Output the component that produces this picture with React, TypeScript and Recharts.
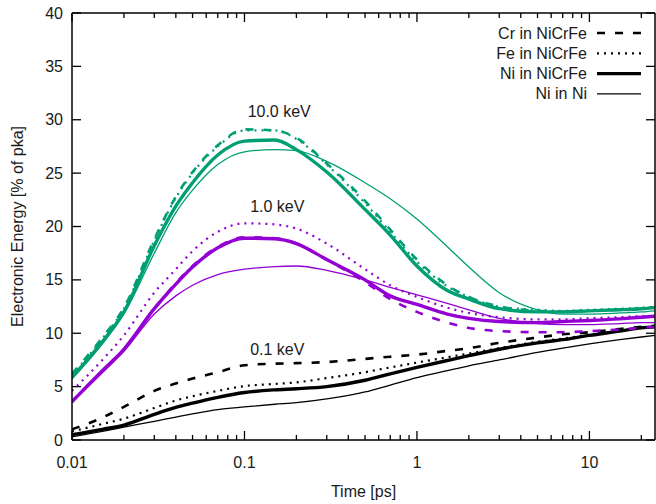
import { LineChart, Line, XAxis, YAxis, Legend, ReferenceDot, ReferenceLine, Label } from 'recharts';

// time grid [ps]
const times = [0.01, 0.015, 0.02, 0.03, 0.04, 0.05, 0.07, 0.1, 0.15, 0.2, 0.3, 0.5, 0.7, 1, 1.5, 2, 3, 5, 7, 10, 15, 20, 24];

// 0.1 keV (black)
const crLow = [1.0, 2.1, 3.1, 4.6, 5.3, 5.75, 6.35, 7.0, 7.15, 7.2, 7.3, 7.6, 7.8, 8.0, 8.35, 8.6, 9.1, 9.6, 9.9, 10.1, 10.4, 10.6, 10.7];
const feLow = [0.8, 1.5, 2.0, 3.0, 3.7, 4.1, 4.6, 5.05, 5.25, 5.4, 5.8, 6.35, 6.8, 7.25, 7.75, 8.1, 8.6, 9.2, 9.5, 9.85, 10.25, 10.5, 10.6];
const niLow = [0.5, 1.0, 1.4, 2.4, 3.05, 3.45, 4.0, 4.45, 4.7, 4.8, 5.0, 5.6, 6.2, 6.8, 7.45, 7.9, 8.5, 9.1, 9.4, 9.8, 10.2, 10.5, 10.6];
const niNiLow = [0.3, 0.8, 1.2, 1.75, 2.15, 2.45, 2.85, 3.1, 3.35, 3.5, 3.85, 4.5, 5.15, 5.85, 6.5, 6.95, 7.5, 8.2, 8.6, 9.0, 9.4, 9.65, 9.8];

// 1.0 keV (purple)
const crMid = [3.6, 6.5, 8.5, 12.3, 14.7, 16.3, 18.1, 19.0, 18.9, 18.4, 16.9, 14.8, 13.2, 12.0, 11.0, 10.5, 10.2, 10.1, 10.1, 10.2, 10.35, 10.5, 10.6];
const feMid = [4.6, 7.5, 9.8, 13.8, 16.0, 17.7, 19.5, 20.3, 20.2, 19.8, 18.4, 16.0, 14.5, 13.4, 12.4, 11.9, 11.5, 11.3, 11.3, 11.4, 11.5, 11.6, 11.6];
const niMid = [3.6, 6.5, 8.5, 12.3, 14.6, 16.2, 18.0, 18.9, 18.85, 18.4, 16.9, 15.0, 13.5, 12.7, 11.8, 11.4, 11.1, 11.0, 11.1, 11.2, 11.35, 11.5, 11.6];
const niNiMid = [3.5, 6.3, 8.3, 11.8, 13.5, 14.5, 15.5, 16.0, 16.25, 16.3, 15.9, 15.0, 14.3, 13.6, 12.8, 12.2, 11.4, 10.9, 10.8, 10.8, 10.9, 11.0, 11.0];

// 10.0 keV (green)
const crHigh = [6.2, 9.6, 12.4, 18.8, 22.8, 25.1, 27.6, 29.1, 29.0, 28.3, 25.9, 22.4, 19.7, 16.9, 14.5, 13.4, 12.5, 12.1, 12.0, 12.1, 12.2, 12.3, 12.4];
const feHigh = [6.1, 9.5, 12.3, 18.7, 22.7, 25.0, 27.5, 29.0, 29.0, 28.2, 25.8, 22.2, 19.5, 16.7, 14.4, 13.4, 12.5, 12.2, 12.1, 12.2, 12.3, 12.4, 12.5];
const niHigh = [5.9, 9.2, 12.0, 18.2, 21.9, 24.1, 26.7, 28.0, 28.1, 27.2, 25.1, 21.6, 19.2, 16.3, 14.0, 13.2, 12.3, 12.0, 12.0, 12.1, 12.2, 12.3, 12.4];
const niNiHigh = [5.7, 9.0, 11.8, 17.5, 21.3, 23.4, 25.8, 27.0, 27.2, 27.1, 26.1, 24.1, 22.6, 20.7, 18.1, 16.2, 13.8, 12.2, 11.8, 11.8, 11.9, 12.0, 12.1];

const majorX = [0.01, 0.1, 1, 10];
const minorX = [0.02, 0.03, 0.04, 0.05, 0.06, 0.07, 0.08, 0.09, 0.2, 0.3, 0.4, 0.5, 0.6, 0.7, 0.8, 0.9, 2, 3, 4, 5, 6, 7, 8, 9, 20];
const yTicks = [0, 5, 10, 15, 20, 25, 30, 35, 40];

const legendLabels = ['Cr in NiCrFe', 'Fe in NiCrFe', 'Ni in NiCrFe', 'Ni in Ni'];
const annotations = [
  { x: 0.159, y: 30.8, text: '10.0 keV' },
  { x: 0.155, y: 21.9, text: '1.0 keV' },
  { x: 0.155, y: 8.45, text: '0.1 keV' },
];

const X_MIN = 0.01;
const X_MAX = 24;
const Y_MAX = 40;

const GREEN = '#009e73';
const PURPLE = '#9400d3';
const BLACK = '#000000';
const FONT = '"Liberation Sans", Arial, sans-serif';
const TXT = '#1a1a1a';
const AXIS_LINE = { stroke: '#000', strokeWidth: 1.5 };

// plot box in px, used only to turn tick lengths (px) into axis units
const PLOT_W = 583;
const PLOT_H = 427;
const MAJOR_PX = 9;
const MINOR_PX = 5;
const yLen = (px: number) => (px * Y_MAX) / PLOT_H;
const xFac = (px: number) => Math.pow(10, (px * Math.log10(X_MAX / X_MIN)) / PLOT_W);

// line style per species: Cr, Fe, Ni (alloy), Ni (pure)
const styles = [
  { width: 2.6, dash: '8 10' },
  { width: 2.2, dash: '2 5' },
  { width: 3.4, dash: undefined },
  { width: 1.3, dash: undefined },
];

const groups = [
  { color: BLACK, keys: ['crLow', 'feLow', 'niLow', 'niNiLow'], vals: [crLow, feLow, niLow, niNiLow] },
  { color: PURPLE, keys: ['crMid', 'feMid', 'niMid', 'niNiMid'], vals: [crMid, feMid, niMid, niNiMid] },
  { color: GREEN, keys: ['crHigh', 'feHigh', 'niHigh', 'niNiHigh'], vals: [crHigh, feHigh, niHigh, niNiHigh] },
];

const data = times.map((t, i) => {
  const row: Record<string, number> = { t };
  groups.forEach((g) => g.keys.forEach((k, j) => (row[k] = g.vals[j][i])));
  return row;
});

// inward tick marks (gnuplot style) as short segments on all four sides
const xTickSegs = [
  ...majorX.map((t) => ({ t, len: yLen(MAJOR_PX) })),
  ...minorX.map((t) => ({ t, len: yLen(MINOR_PX) })),
].flatMap(({ t, len }) => [
  [{ x: t, y: 0 }, { x: t, y: len }],
  [{ x: t, y: Y_MAX }, { x: t, y: Y_MAX - len }],
]);
const yTickSegs = yTicks.flatMap((v) => [
  [{ x: X_MIN, y: v }, { x: X_MIN * xFac(MAJOR_PX), y: v }],
  [{ x: X_MAX, y: v }, { x: X_MAX / xFac(MAJOR_PX), y: v }],
]);
const tickSegs = [...xTickSegs, ...yTickSegs];

function BottomLabel(props: any) {
  const { x, y, payload } = props;
  return (
    <text x={x} y={y + 28} textAnchor="middle" fontSize={16} fontFamily={FONT} fill={TXT}>
      {String(payload.value)}
    </text>
  );
}

function LeftLabel(props: any) {
  const { x, y, payload } = props;
  return (
    <text x={x - 9} y={y + 5.5} textAnchor="end" fontSize={16} fontFamily={FONT} fill={TXT}>
      {payload.value}
    </text>
  );
}

const NoTick = () => <g />;

function LegendBox() {
  return (
    <svg width={280} height={95}>
      {legendLabels.map((lab, i) => {
        const cy = 13 + i * 20.3;
        return (
          <g key={lab}>
            <text x={207} y={cy + 5.5} textAnchor="end" fontSize={16} fontFamily={FONT} fill={TXT}>
              {lab}
            </text>
            <line
              x1={217}
              x2={261}
              y1={cy}
              y2={cy}
              stroke="#000"
              strokeWidth={styles[i].width}
              strokeDasharray={styles[i].dash}
            />
          </g>
        );
      })}
    </svg>
  );
}

export default function App() {
  return (
    <div
      style={{ position: 'absolute', left: 0, top: 0, width: 656, height: 504, overflow: 'hidden', background: '#fff' }}
    >
      <LineChart width={660} height={504} data={data} margin={{ top: 0, right: 0, bottom: 0, left: 0 }}>
        <XAxis
          xAxisId="b"
          dataKey="t"
          type="number"
          scale="log"
          domain={[X_MIN, X_MAX]}
          allowDataOverflow
          ticks={majorX}
          interval={0}
          height={64}
          tickSize={0}
          tickMargin={0}
          tickLine={false}
          tick={BottomLabel}
          axisLine={AXIS_LINE}
        >
          <Label
            content={(p: any) => {
              const vb = p.viewBox || { x: 72, y: 440, width: 583 };
              return (
                <text x={vb.x + vb.width / 2} y={vb.y + 57} textAnchor="middle" fontSize={16} fontFamily={FONT} fill={TXT}>
                  Time [ps]
                </text>
              );
            }}
          />
        </XAxis>
        <XAxis
          xAxisId="t"
          orientation="top"
          dataKey="t"
          type="number"
          scale="log"
          domain={[X_MIN, X_MAX]}
          allowDataOverflow
          ticks={majorX}
          interval={0}
          height={13}
          tickLine={false}
          tick={NoTick}
          axisLine={AXIS_LINE}
        />
        <YAxis
          yAxisId="l"
          type="number"
          domain={[0, Y_MAX]}
          ticks={yTicks}
          interval={0}
          width={72}
          tickSize={0}
          tickMargin={0}
          tickLine={false}
          tick={LeftLabel}
          axisLine={AXIS_LINE}
        >
          <Label
            content={(p: any) => {
              const vb = p.viewBox || { x: 0, y: 13, height: 427 };
              const cy = vb.y + vb.height / 2;
              return (
                <text
                  transform={`translate(23, ${cy}) rotate(-90)`}
                  textAnchor="middle"
                  fontSize={16}
                  fontFamily={FONT}
                  fill={TXT}
                >
                  Electronic Energy [% of pka]
                </text>
              );
            }}
          />
        </YAxis>
        <YAxis
          yAxisId="r"
          orientation="right"
          type="number"
          domain={[0, Y_MAX]}
          ticks={yTicks}
          interval={0}
          width={5}
          tickLine={false}
          tick={NoTick}
          axisLine={AXIS_LINE}
        />
        {tickSegs.map((seg, i) => (
          <ReferenceLine
            key={`tick-${i}`}
            xAxisId="b"
            yAxisId="l"
            segment={seg}
            stroke="#000"
            strokeWidth={1.3}
            ifOverflow="visible"
          />
        ))}
        {groups.map((g) =>
          g.keys.map((k, j) => (
            <Line
              key={k}
              xAxisId="b"
              yAxisId="l"
              dataKey={k}
              type="monotone"
              stroke={g.color}
              strokeWidth={styles[j].width}
              strokeDasharray={styles[j].dash}
              dot={false}
              activeDot={false}
              isAnimationActive={false}
            />
          ))
        )}
        {annotations.map((a) => (
          <ReferenceDot
            key={a.text}
            xAxisId="b"
            yAxisId="l"
            x={a.x}
            y={a.y}
            r={0}
            fill="none"
            stroke="none"
            label={{ value: a.text, position: 'center', fontSize: 16, fontFamily: FONT, fill: TXT }}
          />
        ))}
        <Legend
          layout="vertical"
          align="center"
          verticalAlign="middle"
          content={() => <LegendBox />}
          wrapperStyle={{ position: 'absolute', left: 380, top: 20, width: 280, height: 95 }}
        />
      </LineChart>
    </div>
  );
}
